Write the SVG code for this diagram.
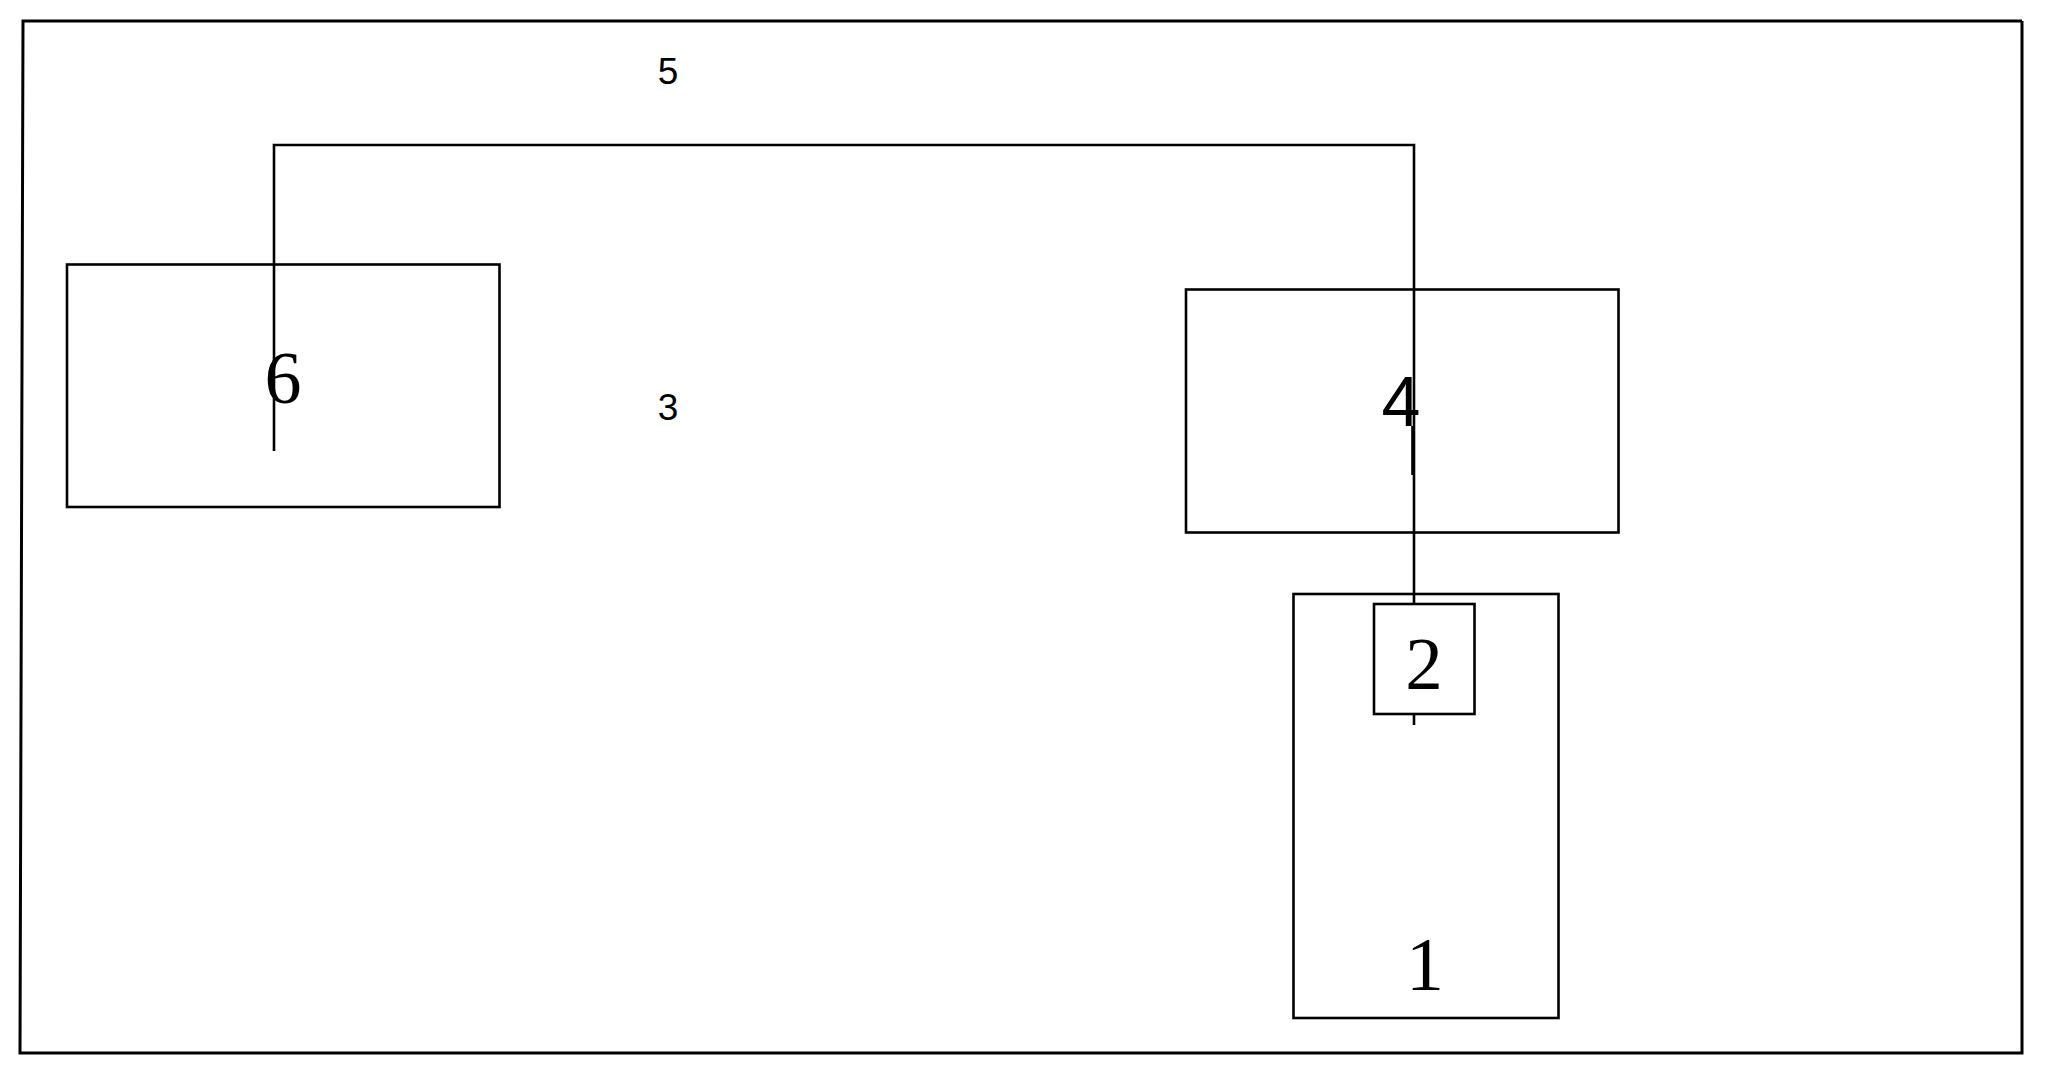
<svg xmlns="http://www.w3.org/2000/svg" width="2045" height="1077" viewBox="0 0 2045 1077">
<style>
.box{fill:none;stroke:#000;stroke-width:2.6}
.frame{fill:none;stroke:#000;stroke-width:3}
.conn{fill:none;stroke:#000;stroke-width:2.6}
.serif{font-family:"Liberation Serif","Times New Roman",serif;fill:#000;text-anchor:middle}
.sans{font-family:"Liberation Sans",Arial,sans-serif;fill:#000;text-anchor:middle}
</style>
<rect width="2045" height="1077" fill="#fff"/>
<g id="frame">
<polyline class="frame" points="2022,21 23,21 20,1053 2022,1053 2022,21"/>
</g>
<g id="node6">
<rect class="box" x="67" y="264.5" width="432.5" height="242.5"/>
<text class="serif" x="283" y="403" font-size="74">6</text>
</g>
<g id="node4">
<rect class="box" x="1186" y="289.5" width="432.5" height="243"/>
<text class="sans" x="1401" y="426" font-size="70">4</text>
</g>
<g id="node1">
<rect class="box" x="1293.5" y="594" width="265" height="424"/>
<text class="serif" x="1425" y="990" font-size="76">1</text>
</g>
<g id="node2">
<rect class="box" x="1374" y="604" width="100.5" height="110"/>
<text class="serif" x="1424" y="689" font-size="75">2</text>
</g>
<g id="labels">
<text class="sans" x="668" y="84" font-size="37">5</text>
<text class="sans" x="668" y="420" font-size="37">3</text>
</g>
<g id="connectors">
<polyline class="conn" points="274,451 274,145 1414,145 1414,604"/>
<line class="conn" x1="1414" y1="714" x2="1414" y2="725"/>
<line class="conn" x1="1412.5" y1="426" x2="1412.5" y2="475"/>
</g>
</svg>
